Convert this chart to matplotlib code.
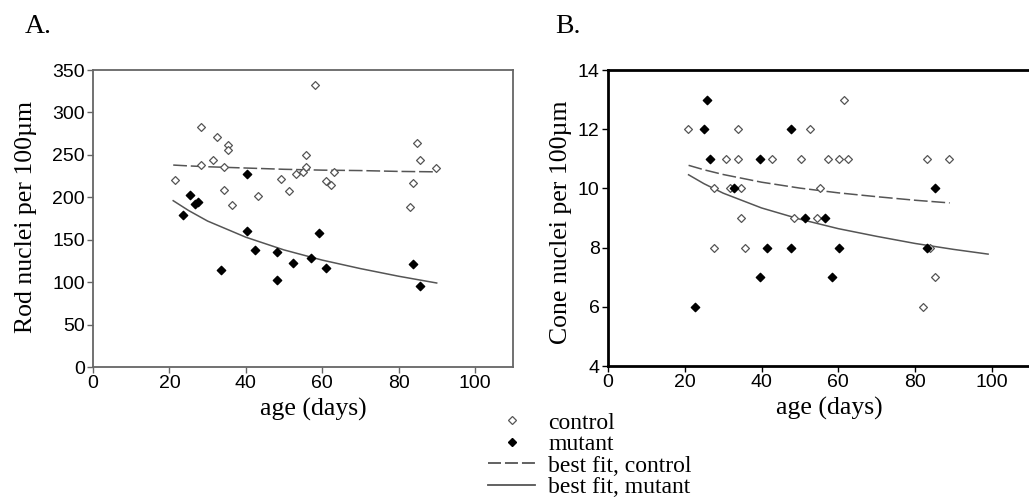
import matplotlib as mpl
mpl.use('Agg')
import matplotlib.pyplot as plt
from matplotlib.lines import Line2D

# panel A, rod nuclei per 100um
rod_ctrl_age = [21.5, 28.4, 28.4, 31.5, 32.4, 34.2, 35.3, 35.3, 34.2, 36.4, 43.3, 49.2, 51.2,
                53.2, 55.1, 55.9, 55.9, 58.2, 60.9, 62.2, 63.1, 82.9, 83.9, 84.8, 85.7, 89.7]
rod_ctrl_val = [220, 283, 238, 244, 271, 236, 262, 256, 209, 191, 202, 222, 207,
                228, 230, 250, 236, 332, 219, 214, 230, 189, 217, 264, 244, 234]
rod_mut_age = [23.5, 25.3, 26.7, 27.4, 33.4, 40.2, 40.2, 42.3, 48.2, 48.2, 52.3, 57.2, 59.1,
               60.9, 83.9, 85.7]
rod_mut_val = [179, 203, 192, 194, 114, 227, 160, 138, 136, 103, 122, 128, 158,
               117, 121, 95]
rod_fit_ctrl_age = [21, 25, 30, 40, 50, 60, 70, 80, 90]
rod_fit_ctrl_val = [238, 237, 236, 234.5, 233, 232, 231.5, 230.5, 230]
rod_fit_mut_age = [21, 25, 30, 40, 50, 60, 70, 80, 90]
rod_fit_mut_val = [196, 184.5, 172, 153, 138, 126, 116, 107, 99]

# panel B, cone nuclei per 100um
cone_ctrl_age = [20.9, 27.6, 27.6, 30.7, 31.7, 33.8, 33.8, 34.6, 34.7, 35.6, 42.7, 48.5, 50.4,
                 52.6, 54.4, 55.3, 57.4, 60.2, 61.5, 62.4, 82.1, 83.1, 84.0, 85.2, 88.8]
cone_ctrl_val = [12, 10, 8, 11, 10, 12, 11, 10, 9, 8, 11, 9, 11,
                 12, 9, 10, 11, 11, 13, 11, 6, 11, 8, 7, 11]
cone_mut_age = [22.6, 24.9, 25.8, 26.7, 32.9, 39.7, 39.7, 41.5, 47.7, 47.7, 51.4, 56.6, 58.4,
                60.2, 83.1, 85.2]
cone_mut_val = [6, 12, 13, 11, 10, 11, 7, 8, 12, 8, 9, 9, 7,
                8, 8, 10]
cone_fit_ctrl_age = [21, 25, 30, 40, 50, 60, 70, 80, 89]
cone_fit_ctrl_val = [10.78, 10.63, 10.47, 10.21, 10.01, 9.85, 9.72, 9.6, 9.51]
cone_fit_mut_age = [21, 25, 30, 40, 50, 60, 70, 80, 90, 99]
cone_fit_mut_val = [10.46, 10.16, 9.84, 9.34, 8.96, 8.64, 8.38, 8.14, 7.94, 7.78]

x_ticks = [0, 20, 40, 60, 80, 100]

serif = 'Liberation Serif'
sans = 'Liberation Sans'
fit_col = '#555555'
open_col = '#555555'

fig = plt.figure(figsize=(10.29, 5.04), dpi=100)
axA = fig.add_axes([0.0904, 0.2718, 0.4082, 0.5893])
axB = fig.add_axes([0.5908, 0.2738, 0.4105, 0.5873])


def draw_panel(ax, c_age, c_val, m_age, m_val, fc_age, fc_val, fm_age, fm_val):
    ax.plot(fc_age, fc_val, color=fit_col, lw=1.1, linestyle=(0, (9, 2.5)), zorder=2)
    ax.plot(fm_age, fm_val, color=fit_col, lw=1.1, zorder=2)
    ax.scatter(c_age, c_val, marker='D', s=16, facecolor='white', edgecolor=open_col,
               linewidths=0.9, zorder=3)
    ax.scatter(m_age, m_val, marker='D', s=18, color='black', zorder=3)
    ax.set_xlim(0, 110)
    ax.set_xticks(x_ticks)
    ax.tick_params(direction='out', length=4, width=1, labelsize=14, pad=2)
    for lab in ax.get_xticklabels() + ax.get_yticklabels():
        lab.set_fontfamily(sans)
    ax.set_xlabel('age (days)', family=serif, fontsize=18.5)
    ax.xaxis.set_label_coords(0.525, -0.105)


draw_panel(axA, rod_ctrl_age, rod_ctrl_val, rod_mut_age, rod_mut_val,
           rod_fit_ctrl_age, rod_fit_ctrl_val, rod_fit_mut_age, rod_fit_mut_val)
axA.set_ylim(0, 350)
axA.set_yticks(range(0, 351, 50))
for lab in axA.get_yticklabels():
    lab.set_fontfamily(sans)
axA.set_ylabel('Rod nuclei per 100µm', family=serif, fontsize=18.5)
axA.yaxis.set_label_coords(-0.133, 0.505)
for sp in axA.spines.values():
    sp.set_color('#666666')
    sp.set_linewidth(1.3)
axA.tick_params(color='#666666')

draw_panel(axB, cone_ctrl_age, cone_ctrl_val, cone_mut_age, cone_mut_val,
           cone_fit_ctrl_age, cone_fit_ctrl_val, cone_fit_mut_age, cone_fit_mut_val)
axB.set_ylim(4, 14)
axB.set_yticks(range(4, 15, 2))
for lab in axB.get_yticklabels():
    lab.set_fontfamily(sans)
axB.set_ylabel('Cone nuclei per 100µm', family=serif, fontsize=18.5)
axB.yaxis.set_label_coords(-0.085, 0.486)
for sp in axB.spines.values():
    sp.set_color('black')
    sp.set_linewidth(2)
axB.spines['right'].set_visible(False)

fig.text(0.0243, 0.9345, 'A.', family=serif, fontsize=20)
fig.text(0.5394, 0.9345, 'B.', family=serif, fontsize=20)

handles = [
    Line2D([], [], marker='D', ms=4, mfc='white', mec=open_col, mew=0.9, ls='none'),
    Line2D([], [], marker='D', ms=4.2, color='black', ls='none'),
    Line2D([], [], color=fit_col, lw=1.3, linestyle=(0, (7.2, 2.2))),
    Line2D([], [], color=fit_col, lw=1.3),
]
labels = ['control', 'mutant', 'best fit, control', 'best fit, mutant']
fig.legend(handles, labels, loc='upper left', bbox_to_anchor=(0.4742, 0.1825),
           frameon=False, prop={'family': serif, 'size': 17}, borderpad=0,
           borderaxespad=0, handlelength=2.0, handletextpad=0.55, labelspacing=0.0)

fig.savefig('out.png', dpi=100)
